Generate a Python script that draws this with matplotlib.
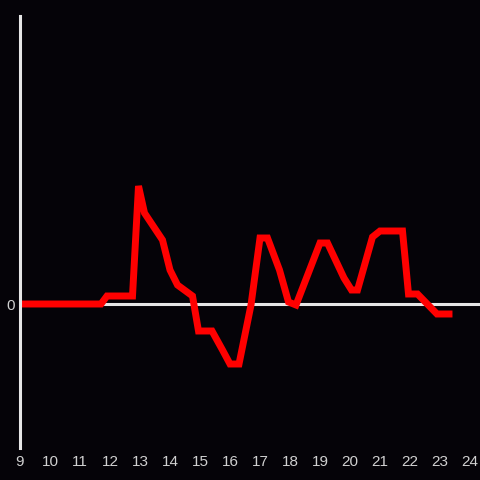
import matplotlib
matplotlib.use("Agg")
import matplotlib.pyplot as plt

plt.rcParams["font.family"] = ["Liberation Sans", "DejaVu Sans"]

# hour of day and the measured value (arbitrary units)
hours = [9, 11.7, 11.9, 12.75, 12.95, 13.15, 13.75, 14.0, 14.25, 14.75, 14.95,
         15.4, 15.75, 16.0, 16.3, 16.7, 17.0, 17.25, 17.65, 17.95, 18.2, 19.0, 19.25,
         19.8, 20.05, 20.25, 20.75, 21.0, 21.75, 21.95, 22.25, 22.9, 23.3]
values = [0, 0, 8, 8, 118, 91, 64, 34, 19, 8, -27,
          -27, -46, -60, -60, -1, 66, 66, 34, 2, -1, 61, 61,
          26, 14, 14, 67, 73, 73, 10, 10, -10, -10]
xticks = list(range(9, 25))

bg = "#050308"
fig = plt.figure(figsize=(4.8, 4.8), dpi=100, facecolor=bg)
ax = fig.add_axes([20/480, 32/480, 460/480, 432/480], facecolor=bg)

ax.axhline(0, color="#e6e6e6", lw=2.2, zorder=1)
ax.plot(hours, values, color="#ff0000", lw=5, solid_joinstyle="miter", zorder=2)

ax.set_xlim(9, 9 + 460/30)
ax.set_ylim(-144, 288)

for s in ["top", "right", "bottom"]:
    ax.spines[s].set_visible(False)
ax.spines["left"].set_color("#e6e6e6")
ax.spines["left"].set_linewidth(2.2)

ax.set_xticks(xticks)
ax.set_yticks([0])
ax.tick_params(length=0, colors="#d0d0d0", labelsize=11, pad=4)
ax.tick_params(axis="x", pad=5)

fig.savefig("out.png", dpi=100, facecolor=bg)
